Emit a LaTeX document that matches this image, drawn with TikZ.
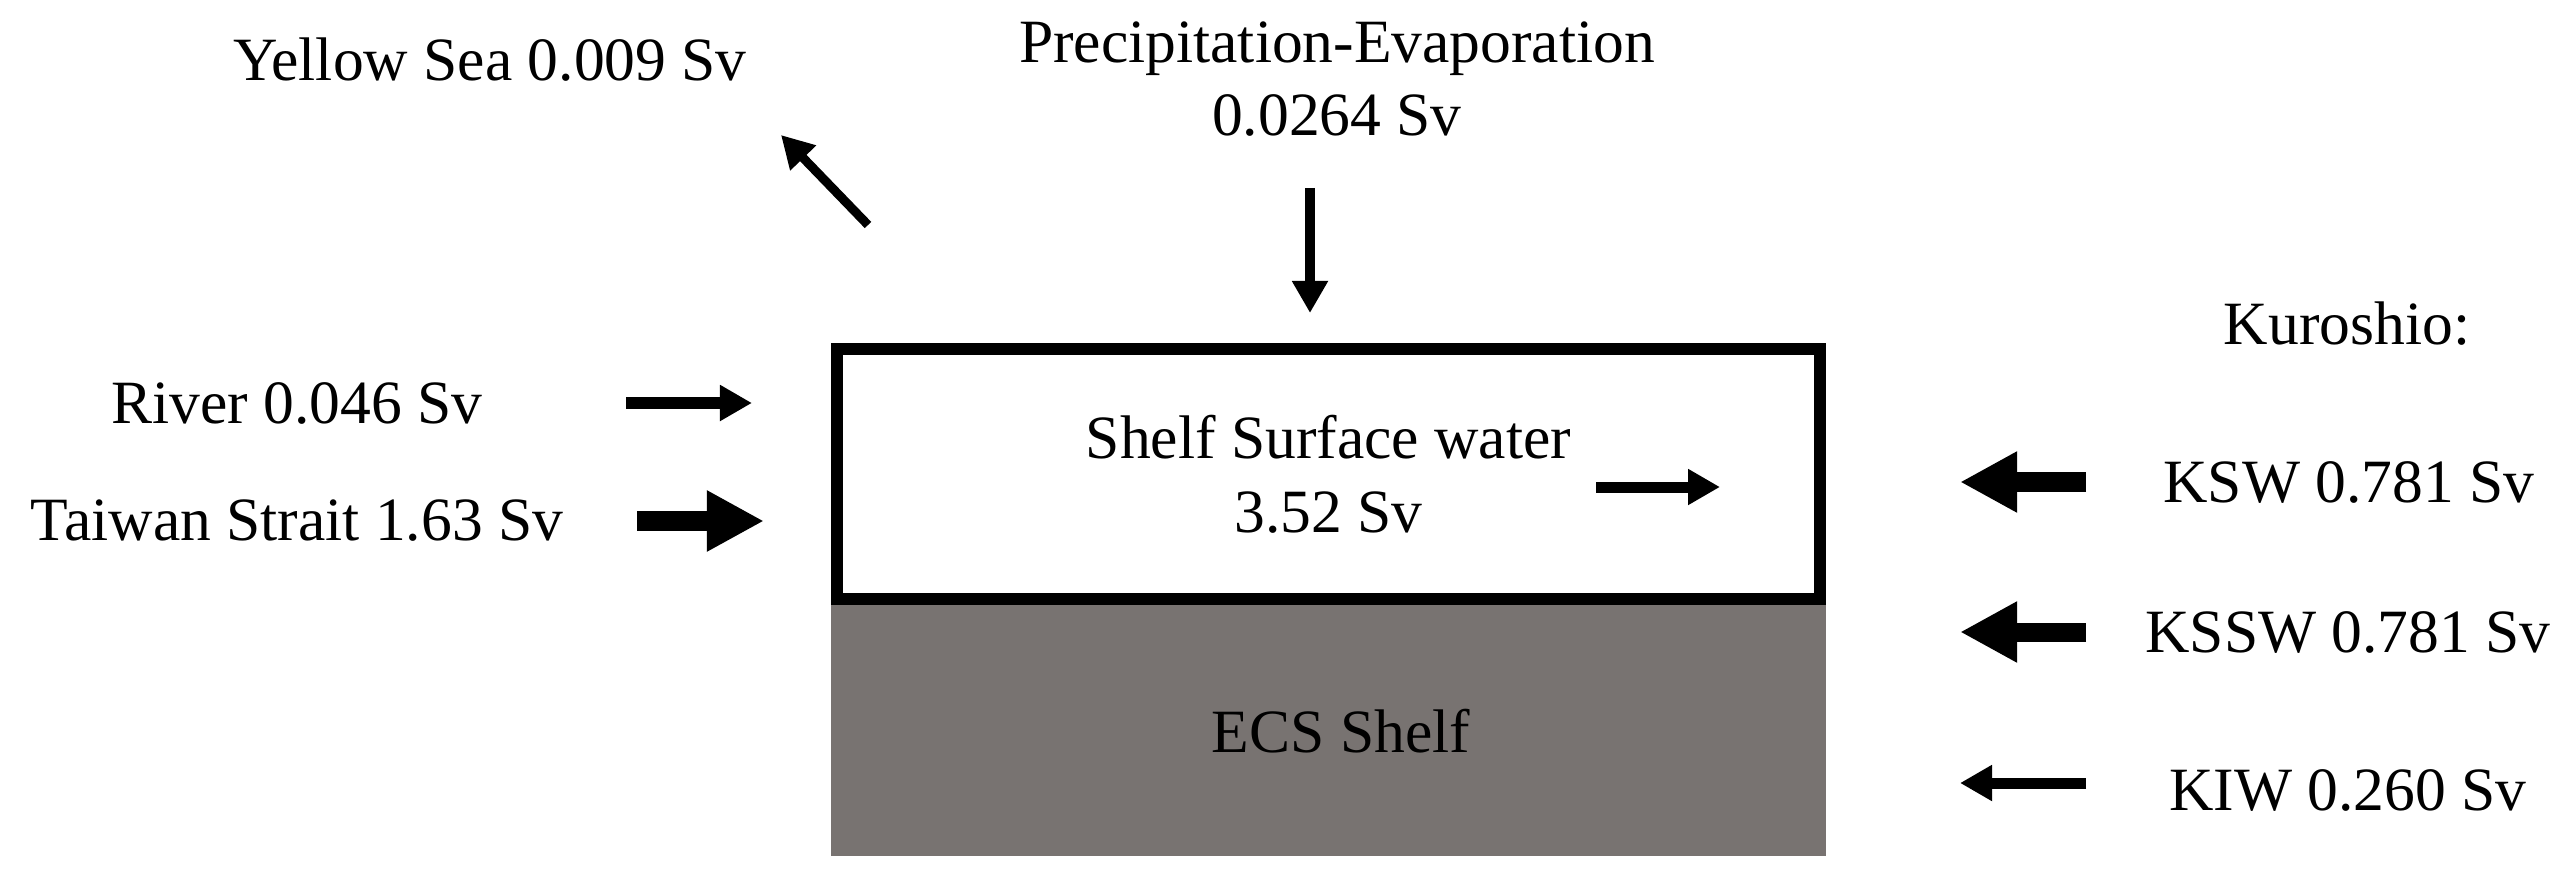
\documentclass[tikz,border=0pt]{standalone}
\usepackage{fontspec}
\setmainfont{Liberation Serif}
\usetikzlibrary{arrows.meta}
\definecolor{shelfgray}{RGB}{120,115,113}
\begin{document}
\begin{tikzpicture}[x=0.01cm,y=-0.01cm,
  lbl/.style={font=\fontsize{17.5}{21}\selectfont, inner sep=0pt, align=center},
  thinarr/.style={line width=1.1mm, -{Triangle[length=3.2mm,width=3.4mm]}},
  thickarr/.style={line width=1.9mm, -{Triangle[length=5.7mm,width=5.7mm]}}]
\path[use as bounding box, fill=white] (0,0) rectangle (2573,870);
% boxes
\node[fill=shelfgray, minimum width=9.95cm, minimum height=2.57cm, inner sep=0pt, lbl] (shelf) at (1328.5,727.5) {};
\node[lbl] (shelfT) at (1341,731) {ECS Shelf};
\node[draw, fill=white, line width=1.2mm, minimum width=9.83cm, minimum height=2.5cm, inner sep=0pt, lbl] (surf) at (1328.5,474) {Shelf Surface water\\3.52 Sv};
% labels
\node[lbl] (prec) at (1337,79) {Precipitation-Evaporation\\0.0264 Sv};
\node[lbl] (yellow) at (490,60) {Yellow Sea 0.009 Sv};
\node[lbl] (river) at (297,403) {River 0.046 Sv};
\node[lbl] (taiwan) at (297,521) {Taiwan Strait 1.63 Sv};
\node[lbl] (kuro) at (2347,324) {Kuroshio:};
\node[lbl] (ksw) at (2349,482) {KSW 0.781 Sv};
\node[lbl] (kssw) at (2348,632) {KSSW 0.781 Sv};
\node[lbl] (kiw) at (2348,790) {KIW 0.260 Sv};
% arrow coordinates
\coordinate (precA) at (1310,188); \coordinate (precB) at (1310,313);
\coordinate (yelA) at (868,225);   \coordinate (yelB) at (781,135);
\coordinate (rivA) at (626,403);   \coordinate (rivB) at (752,403);
\coordinate (taiA) at (637,521);   \coordinate (taiB) at (764,521);
\coordinate (inA) at (1596,487);   \coordinate (inB) at (1720,487);
\coordinate (kswA) at (2086,482);  \coordinate (kswB) at (1960,482);
\coordinate (ksswA) at (2086,632); \coordinate (ksswB) at (1960,632);
\coordinate (kiwA) at (2086,783);  \coordinate (kiwB) at (1960,783);
% arrows
\draw[thinarr, line width=1mm] (precA) -- (precB);
\draw[thinarr, line width=0.9mm] (yelA) -- (yelB);
\draw[thinarr] (rivA) -- (rivB);
\draw[thickarr] (taiA) -- (taiB);
\draw[thinarr] (inA) -- (inB);
\draw[thickarr] (kswA) -- (kswB);
\draw[thickarr] (ksswA) -- (ksswB);
\draw[thinarr] (kiwA) -- (kiwB);
\end{tikzpicture}
\end{document}
